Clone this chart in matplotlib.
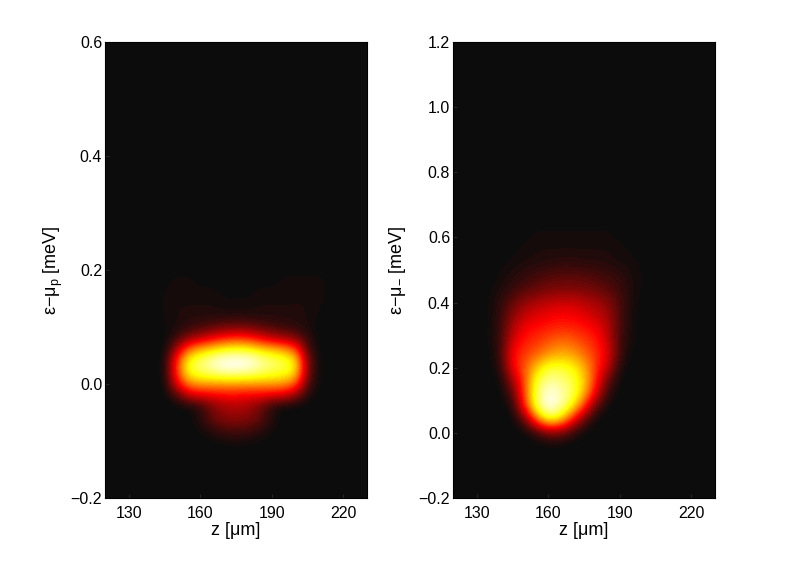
import numpy as np
import matplotlib
matplotlib.use("Agg")
import matplotlib.pyplot as plt
from matplotlib.colors import LinearSegmentedColormap

plt.rcParams['font.family'] = ['Liberation Sans', 'DejaVu Sans']
plt.rcParams['mathtext.fontset'] = 'custom'
plt.rcParams['mathtext.rm'] = 'Liberation Sans'
plt.rcParams['mathtext.default'] = 'regular'

left_z = [135, 140, 145, 150, 155, 160, 165, 170, 175, 180, 185, 190, 195, 200, 205, 210, 215, 220]
left_e = [0.24, 0.22, 0.20, 0.18, 0.16, 0.14, 0.12, 0.10, 0.08, 0.06, 0.04, 0.02, 0.00, -0.02, -0.04, -0.06, -0.08, -0.10, -0.12]
left_vals = [
    [0, 0, 0, 0, 0, 0, 0, 0, 0, 0, 0, 0, 0, 0, 0, 0, 0, 0],
    [0, 0, 1, 1, 1, 0, 0, 0, 0, 0, 0, 0, 0, 1, 1, 1, 0, 0],
    [0, 0, 1, 1, 1, 1, 0, 0, 0, 0, 0, 1, 1, 1, 1, 1, 1, 0],
    [0, 0, 1, 2, 2, 1, 1, 1, 1, 1, 1, 1, 2, 2, 2, 2, 1, 0],
    [0, 0, 2, 2, 2, 2, 2, 1, 1, 1, 2, 2, 2, 3, 3, 2, 1, 0],
    [0, 0, 2, 3, 3, 3, 3, 2, 2, 2, 3, 3, 3, 3, 3, 2, 0, 0],
    [0, 0, 2, 3, 4, 4, 4, 4, 4, 4, 4, 4, 4, 4, 3, 1, 0, 0],
    [0, 0, 1, 3, 6, 9, 12, 15, 16, 15, 12, 9, 7, 5, 3, 0, 0, 0],
    [0, 0, 0, 8, 20, 28, 36, 42, 45, 43, 36, 28, 24, 18, 6, 0, 0, 0],
    [0, 0, 0, 26, 56, 66, 72, 78, 80, 78, 72, 68, 62, 50, 9, 0, 0, 0],
    [0, 0, 1, 46, 78, 86, 95, 100, 100, 100, 92, 86, 82, 74, 16, 0, 0, 0],
    [0, 0, 1, 46, 78, 84, 88, 92, 92, 90, 86, 82, 80, 72, 16, 0, 0, 0],
    [0, 0, 0, 36, 58, 62, 62, 62, 62, 62, 62, 62, 60, 52, 10, 0, 0, 0],
    [0, 0, 0, 10, 30, 34, 36, 38, 38, 36, 36, 34, 32, 20, 3, 0, 0, 0],
    [0, 0, 0, 0, 1, 6, 18, 24, 26, 24, 16, 4, 0, 0, 0, 0, 0, 0],
    [0, 0, 0, 0, 0, 5, 15, 20, 21, 19, 14, 4, 0, 0, 0, 0, 0, 0],
    [0, 0, 0, 0, 0, 2, 6, 10, 11, 10, 6, 2, 0, 0, 0, 0, 0, 0],
    [0, 0, 0, 0, 0, 0, 1, 2, 3, 2, 1, 0, 0, 0, 0, 0, 0, 0],
    [0, 0, 0, 0, 0, 0, 0, 0, 0, 0, 0, 0, 0, 0, 0, 0, 0, 0],
]

right_z = [130, 135, 140, 145, 150, 155, 160, 165, 170, 175, 180, 185, 190, 195, 200, 205]
right_e = [0.76, 0.72, 0.68, 0.64, 0.60, 0.56, 0.52, 0.48, 0.44, 0.40, 0.36, 0.32, 0.28, 0.24, 0.20, 0.16, 0.12, 0.08, 0.04, 0.00, -0.04]
right_vals = [
    [0, 0, 0, 0, 0, 0, 0, 0, 0, 0, 0, 0, 0, 0, 0, 0],
    [0, 0, 0, 0, 0, 0, 0, 1, 1, 1, 0, 0, 0, 0, 0, 0],
    [0, 0, 0, 0, 0, 1, 1, 1, 1, 1, 1, 0, 0, 0, 0, 0],
    [0, 0, 0, 0, 1, 1, 1, 1, 1, 1, 1, 1, 1, 0, 0, 0],
    [0, 0, 0, 1, 1, 2, 2, 2, 2, 2, 2, 2, 1, 1, 0, 0],
    [0, 0, 0, 1, 2, 3, 3, 3, 3, 3, 3, 3, 2, 1, 1, 0],
    [0, 0, 1, 2, 3, 4, 5, 6, 6, 5, 5, 4, 3, 2, 1, 0],
    [0, 0, 2, 4, 7, 9, 11, 12, 12, 12, 10, 8, 6, 3, 1, 0],
    [0, 1, 3, 7, 11, 14, 17, 18, 18, 17, 15, 12, 8, 3, 1, 0],
    [0, 1, 6, 14, 21, 25, 28, 30, 30, 27, 24, 19, 10, 3, 0, 0],
    [0, 1, 7, 20, 29, 33, 36, 38, 37, 34, 29, 24, 10, 2, 0, 0],
    [0, 1, 8, 26, 37, 40, 42, 44, 43, 41, 37, 27, 10, 2, 0, 0],
    [0, 1, 8, 32, 42, 45, 50, 54, 52, 47, 42, 30, 8, 2, 0, 0],
    [0, 0, 8, 40, 46, 52, 60, 64, 62, 54, 45, 34, 8, 0, 0, 0],
    [0, 0, 5, 38, 50, 68, 80, 80, 76, 64, 46, 28, 3, 0, 0, 0],
    [0, 0, 1, 24, 50, 80, 90, 88, 82, 70, 42, 14, 0, 0, 0, 0],
    [0, 0, 0, 12, 50, 85, 98, 94, 84, 66, 34, 6, 0, 0, 0, 0],
    [0, 0, 0, 3, 44, 84, 100, 92, 76, 46, 12, 0, 0, 0, 0, 0],
    [0, 0, 0, 0, 14, 55, 80, 72, 42, 14, 0, 0, 0, 0, 0, 0],
    [0, 0, 0, 0, 0, 6, 18, 16, 6, 0, 0, 0, 0, 0, 0, 0],
    [0, 0, 0, 0, 0, 0, 0, 0, 0, 0, 0, 0, 0, 0, 0, 0],
]

x_ticks = [130, 160, 190, 220]
left_yticks = [-0.2, 0.0, 0.2, 0.4, 0.6]
right_yticks = [-0.2, 0.0, 0.2, 0.4, 0.6, 0.8, 1.0, 1.2]

BG = '#0c0c0c'
cmap = LinearSegmentedColormap.from_list(
    'hotish', [(0, BG), (0.38, '#ff0000'), (0.76, '#ffff00'), (1, '#ffffff')], N=64)

fig = plt.figure(figsize=(7.89, 5.61), dpi=100)
W, H = 789, 561

def panel(x0, zs, es, vals, yticks, ylim, ylabel, ypad):
    ax = fig.add_axes([x0 / W, (H - 498) / H, 262 / W, 456 / H], facecolor=BG)
    dz = (zs[1] - zs[0]) / 2
    de = abs(es[1] - es[0]) / 2
    ax.imshow(np.array(vals, float), cmap=cmap, vmin=0, vmax=100, aspect='auto',
              interpolation='bicubic',
              extent=[zs[0] - dz, zs[-1] + dz, es[-1] - de, es[0] + de])
    ax.set_xlim(120, 230)
    ax.set_ylim(*ylim)
    ax.set_xticks(x_ticks)
    ax.set_yticks(yticks)
    ax.set_yticklabels([f'{t:.1f}'.replace('-', '\u2212') for t in yticks])
    ax.tick_params(direction='in', length=3, width=0.5, labelsize=11.5, color='#333333')
    ax.tick_params(axis='x', pad=5.5)
    ax.tick_params(axis='y', pad=2)
    for s in ax.spines.values():
        s.set_linewidth(0.8)
    ax.set_xlabel('z [\u03bcm]', fontsize=13, labelpad=1)
    ax.set_ylabel(ylabel, fontsize=13, labelpad=ypad)
    return ax

panel(105, left_z, left_e, left_vals, left_yticks, (-0.2, 0.6), '\u03b5\u2212\u03bc$_{p}$ [meV]', 4)
panel(453, right_z, right_e, right_vals, right_yticks, (-0.2, 1.2), '\u03b5\u2212\u03bc$_{-}$ [meV]', 8)

fig.savefig('out.png', dpi=100)
